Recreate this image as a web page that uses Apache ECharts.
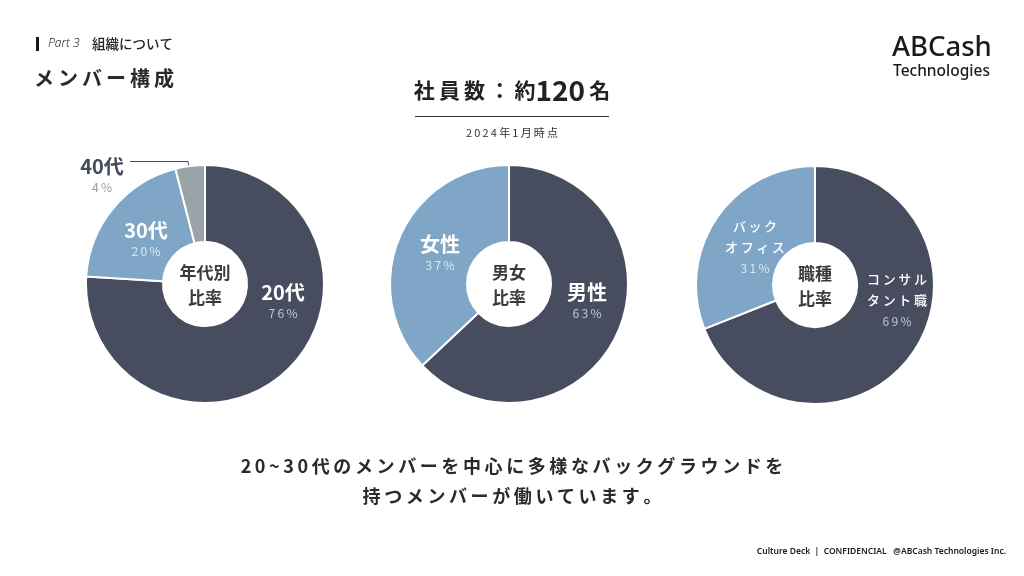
<!DOCTYPE html>
<html><head><meta charset="utf-8">
<script src="https://cdn.jsdelivr.net/npm/echarts@6/dist/echarts.min.js"></script>
<style>html,body{margin:0;padding:0;background:#fff}#c{width:1024px;height:576px}</style>
</head><body><div id="c"></div>
<script>
const ageNames = ['20代', '30代', '40代'];
const ageValues = [76, 20, 4];
const genderNames = ['男性', '女性'];
const genderValues = [63, 37];
const jobNames = ['コンサルタント職', 'バックオフィス'];
const jobLabels = ['コンサル\nタント職', 'バック\nオフィス'];
const jobValues = [69, 31];
const centerTitles = ['年代別\n比率', '男女\n比率', '職種\n比率'];
const headline = ['20~30代のメンバーを中心に多様なバックグラウンドを', '持つメンバーが働いています。'];

const DARK = '#474c5f', BLUE = '#7fa6c6', GRAY = '#9aa3a8';
const JP = '"Noto Sans CJK JP", "Noto Sans", sans-serif';
const sp = s => s.split('').join('\u2009');

const centers = [[205, 284], [509, 284], [815, 285]];
const labelPos = [
  [[283, 302], [146, 240], [102, 176]],
  [[587, 302], [440, 254]],
  [[897, 300], [755, 247]]
];
const sliceColors = [[DARK, BLUE, GRAY], [DARK, BLUE], [DARK, BLUE]];
const pctColors = { [DARK]: '#c3c9d3', [BLUE]: '#dbe7f1', [GRAY]: '#9a9a9a' };

function makeRich(nameColor, pctColor, nameSize, nameLH, small) {
  return {
    n: { color: nameColor, fontSize: nameSize, fontWeight: small ? 500 : 'bold', fontFamily: JP, lineHeight: nameLH },
    p: { color: pctColor, fontSize: 12, fontFamily: JP, lineHeight: 20 }
  };
}

function buildSeries(si, names, values, labels, small) {
  const data = names.map((n, i) => {
    const col = sliceColors[si][i];
    const nameColor = col === GRAY ? '#454a5c' : '#ffffff';
    const disp = labels ? labels[i] : n;
    return {
      name: n, value: values[i],
      itemStyle: { color: col },
      label: {
        formatter: p => disp.split('\n').map(l => '{n|' + (small ? sp(l) : l) + '}').join('\n') + '\n{p|' + sp(Math.round(p.percent) + '%') + '}',
        rich: makeRich(nameColor, pctColors[col], small ? 13 : 20, small ? 21 : 22, small)
      }
    };
  });
  return {
    type: 'pie',
    center: centers[si],
    radius: [42, 119],
    startAngle: 90,
    clockwise: true,
    avoidLabelOverlap: false,
    animation: false,
    silent: true,
    itemStyle: { borderColor: '#ffffff', borderWidth: 2 },
    label: { show: true, position: 'inside', align: 'center' },
    labelLine: { show: false },
    labelLayout: params => {
      const pos = labelPos[si][params.dataIndex];
      return { x: pos[0], y: pos[1], align: 'center', verticalAlign: 'middle' };
    },
    data
  };
}

const txt = (x, y, text, opt, z) => ({ type: 'text', silent: true, z: z || 100, style: Object.assign({ x, y, text, fill: '#222', fontFamily: JP, align: 'left', verticalAlign: 'middle' }, opt) });

const graphic = [
  { type: 'rect', silent: true, shape: { x: 36, y: 37, width: 3, height: 14 }, style: { fill: '#1a1a1a' } },
  txt(48, 44, 'Part 3', { fontFamily: '"Noto Sans", sans-serif', fontStyle: 'italic', fontWeight: 300, fontSize: 12 }),
  txt(92, 44, '組織について', { fontSize: 13.5, fontWeight: 500 }),
  txt(34, 78, sp('メンバー構成'), { fontSize: 20, fontWeight: 'bold', fill: '#2a2a2a' }),
  txt(892, 48, 'ABCash', { fontFamily: '"Noto Sans", sans-serif', fontSize: 27.5, fontWeight: 500, fill: '#1a1a1a' }),
  txt(893, 72, 'Technologies', { fontFamily: '"Noto Sans", sans-serif', fontSize: 15.5, fontWeight: 500, fill: '#1a1a1a' }),
  txt(512, 90, '{a|' + sp('社員数：約') + '}{b|120}{a|\u2009名}', {
    align: 'center',
    rich: {
      a: { fontSize: 21, fontWeight: 'bold', fontFamily: JP, color: '#2a2a2a' },
      b: { fontSize: 28, fontWeight: 600, fontFamily: JP, color: '#2a2a2a' }
    }
  }),
  { type: 'line', silent: true, shape: { x1: 415, y1: 116.5, x2: 609, y2: 116.5 }, style: { stroke: '#333', lineWidth: 1 } },
  txt(512, 133, sp('2024年1月時点'), { align: 'center', fontSize: 11, fill: '#333' }),
  { type: 'polyline', silent: true, shape: { points: [[130, 161.5], [188, 161.5], [190, 176]] }, style: { stroke: '#454a5c', lineWidth: 1, fill: null } },
  txt(512, 466, sp(headline[0]), { align: 'center', fontSize: 18, fontWeight: 'bold', fill: '#2a2a2a' }),
  txt(512, 496, sp(headline[1]), { align: 'center', fontSize: 18, fontWeight: 'bold', fill: '#2a2a2a' }),
  txt(1006, 552, 'Culture Deck  |  CONFIDENCIAL   @ABCash Technologies Inc.', { align: 'right', fontFamily: '"Noto Sans", sans-serif', fontSize: 8.5, fontWeight: 600, fill: '#1a1a1a' })
];
centers.forEach((c, i) => {
  graphic.push(txt(c[0], c[1] + 1, centerTitles[i], { align: 'center', fontSize: 17, fontWeight: 'bold', fill: '#3a3a3a', lineHeight: 25 }, 200));
});

const chart = echarts.init(document.getElementById('c'), null, { renderer: 'canvas' });
chart.setOption({
  backgroundColor: '#ffffff',
  animation: false,
  series: [
    buildSeries(0, ageNames, ageValues, null, false),
    buildSeries(1, genderNames, genderValues, null, false),
    buildSeries(2, jobNames, jobValues, jobLabels, true)
  ],
  graphic
});
</script></body></html>
